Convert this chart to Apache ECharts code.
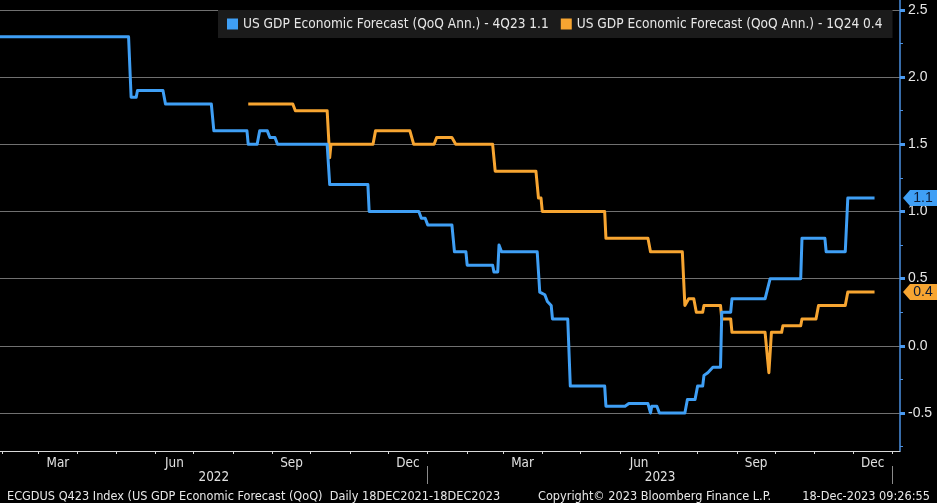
<!DOCTYPE html>
<html>
<head>
<meta charset="utf-8">
<script src="https://cdn.jsdelivr.net/npm/echarts@6/dist/echarts.min.js"></script>
<style>
html,body{margin:0;padding:0;background:#000;}
#chart{width:937px;height:503px;}
</style>
</head>
<body>
<div id="chart"></div>
<script>
// ---- Data ----
const seriesNames = ['US GDP Economic Forecast (QoQ Ann.) - 4Q23', 'US GDP Economic Forecast (QoQ Ann.) - 1Q24'];

const q423Dates = ['2022-01-30','2022-05-11','2022-05-13','2022-05-17','2022-05-18','2022-06-07','2022-06-09','2022-07-15','2022-07-17','2022-08-12','2022-08-13','2022-08-20','2022-08-22','2022-08-28','2022-08-30','2022-09-03','2022-09-05','2022-10-14','2022-10-16','2022-11-15','2022-11-16','2022-12-25','2022-12-27','2022-12-30','2023-01-01','2023-01-20','2023-01-22','2023-01-31','2023-02-01','2023-02-21','2023-02-22','2023-02-25','2023-02-26','2023-02-28','2023-03-28','2023-03-30','2023-04-03','2023-04-05','2023-04-08','2023-04-09','2023-04-21','2023-04-23','2023-05-20','2023-05-21','2023-06-05','2023-06-08','2023-06-23','2023-06-25','2023-06-26','2023-06-30','2023-07-02','2023-07-22','2023-07-24','2023-07-30','2023-08-01','2023-08-05','2023-08-06','2023-08-09','2023-08-11','2023-08-13','2023-08-19','2023-08-20','2023-08-27','2023-08-28','2023-09-23','2023-09-27','2023-10-21','2023-10-22','2023-11-09','2023-11-10','2023-11-25','2023-11-27','2023-12-18'];
const q423Values = [2.3,2.3,1.85,1.85,1.9,1.9,1.8,1.8,1.6,1.6,1.5,1.5,1.6,1.6,1.55,1.55,1.5,1.5,1.2,1.2,1.0,1.0,0.95,0.95,0.9,0.9,0.7,0.7,0.6,0.6,0.55,0.55,0.75,0.7,0.7,0.4,0.38,0.33,0.3,0.2,0.2,-0.3,-0.3,-0.45,-0.45,-0.43,-0.43,-0.5,-0.45,-0.45,-0.5,-0.5,-0.4,-0.4,-0.3,-0.3,-0.22,-0.2,-0.18,-0.16,-0.16,0.25,0.25,0.35,0.35,0.5,0.5,0.8,0.8,0.7,0.7,1.1,1.1];

const q124Dates = ['2022-08-13','2022-09-17','2022-09-19','2022-10-14','2022-10-16','2022-10-17','2022-11-19','2022-11-21','2022-12-18','2022-12-21','2023-01-06','2023-01-08','2023-01-20','2023-01-23','2023-02-21','2023-02-23','2023-03-27','2023-03-29','2023-03-31','2023-04-01','2023-05-20','2023-05-21','2023-06-23','2023-06-25','2023-07-20','2023-07-22','2023-07-25','2023-07-29','2023-07-31','2023-08-05','2023-08-06','2023-08-19','2023-08-20','2023-08-27','2023-08-28','2023-09-23','2023-09-26','2023-09-28','2023-10-06','2023-10-07','2023-10-21','2023-10-22','2023-11-02','2023-11-04','2023-11-25','2023-11-27','2023-12-18'];
const q124Values = [1.8,1.8,1.75,1.75,1.4,1.5,1.5,1.6,1.6,1.5,1.5,1.55,1.55,1.5,1.5,1.3,1.3,1.1,1.1,1.0,1.0,0.8,0.8,0.7,0.7,0.3,0.35,0.35,0.25,0.25,0.3,0.3,0.2,0.2,0.1,0.1,-0.2,0.1,0.1,0.15,0.15,0.2,0.2,0.3,0.3,0.4,0.4];

const xStart = '2022-01-30';
const xEnd = '2024-01-07';
const monthLabels = ['Mar','Jun','Sep','Dec'];
const yearLabels = ['2022','2023'];
const yTicks = [-0.5, 0.0, 0.5, 1.0, 1.5, 2.0, 2.5];
const yMinorTicks = [-0.75, -0.25, 0.25, 0.75, 1.25, 1.75, 2.25];
const footerLeft = 'ECGDUS Q423 Index (US GDP Economic Forecast (QoQ)  Daily 18DEC2021-18DEC2023';
const footerMid = 'Copyright\u00A9 2023 Bloomberg Finance L.P.';
const footerRight = '18-Dec-2023 09:26:55';

// ---- Helpers ----
const FONT = '"DejaVu Sans Condensed", "Liberation Sans Narrow", "Roboto Condensed", sans-serif';
const BLUE = '#3f9ff5';
const ORANGE = '#f7a531';
function ts(s){ const p = s.split('-').map(Number); return new Date(p[0], p[1]-1, p[2]).getTime(); }
const xMin = ts(xStart), xMax = ts(xEnd);
const monthNames = ['Jan','Feb','Mar','Apr','May','Jun','Jul','Aug','Sep','Oct','Nov','Dec'];

const monthStarts = [];
{ let d = new Date(xMin); d = new Date(d.getFullYear(), d.getMonth()+1, 1);
  while (d.getTime() <= xMax) { monthStarts.push(d.getTime()); d = new Date(d.getFullYear(), d.getMonth()+1, 1); } }
const monthMids = [];
{ let d = new Date(new Date(xMin).getFullYear(), new Date(xMin).getMonth(), 1);
  while (d.getTime() <= xMax) {
    const nxt = new Date(d.getFullYear(), d.getMonth()+1, 1);
    if (monthLabels.indexOf(monthNames[d.getMonth()]) >= 0) {
      const mid = (d.getTime() + nxt.getTime())/2;
      if (mid > xMin && mid < xMax) monthMids.push(mid);
    }
    d = nxt;
  } }
const yearStarts = [], yearMids = [];
yearLabels.forEach(function(y){
  const a = Math.max(xMin, new Date(+y, 0, 1).getTime());
  const b = Math.min(xMax, new Date(+y+1, 0, 1).getTime());
  yearMids.push((a+b)/2);
  const bs = new Date(+y+1, 0, 1).getTime();
  if (bs <= xMax) yearStarts.push(bs);
});

function pairs(ds, vs){ return ds.map(function(d,i){ return [ts(d), vs[i]]; }); }
const blueData = pairs(q423Dates, q423Values);
const orangeData = pairs(q124Dates, q124Values);
const blueLast = q423Values[q423Values.length-1];
const orangeLast = q124Values[q124Values.length-1];

function tag(color, last){
  return {
    silent: true,
    symbol: 'path://M0,8L7,0L34,0L34,16L7,16Z',
    symbolSize: [34, 16],
    symbolOffset: [20, 0],
    itemStyle: { color: color },
    label: { show: true, color: '#0c1a33', fontFamily: 'Liberation Sans, Arial, sans-serif', fontSize: 14, offset: [3, 0], formatter: function(){ return last.toFixed(1); } },
    data: [{ coord: [xMax, last] }]
  };
}

const chart = echarts.init(document.getElementById('chart'), null, {renderer: 'canvas'});
chart.setOption({
  backgroundColor: '#000',
  animation: false,
  title: [
    { text: footerLeft, left: 2, top: 485, textStyle: { color: '#e8e8e8', fontSize: 12.6, fontWeight: 'normal', fontFamily: FONT } },
    { text: footerMid, left: 533, top: 485, textStyle: { color: '#e8e8e8', fontSize: 12.6, fontWeight: 'normal', fontFamily: FONT } },
    { text: footerRight, right: 2, top: 485, textStyle: { color: '#e8e8e8', fontSize: 12.6, fontWeight: 'normal', fontFamily: FONT } }
  ],
  legend: {
    left: 218, top: 10,
    backgroundColor: '#1b1b1b',
    padding: [7, 10, 7, 9],
    itemGap: 12,
    itemWidth: 11, itemHeight: 11,
    icon: 'rect',
    textStyle: { color: '#e8e8e8', fontSize: 13.6, fontFamily: FONT },
    data: seriesNames,
    formatter: function(n){ return n + ' ' + (n === seriesNames[0] ? blueLast : orangeLast).toFixed(1); }
  },
  grid: { left: 0, right: 37, top: 0, bottom: 52, containLabel: false },
  xAxis: [
    {
      type: 'value', min: xMin, max: xMax, position: 'bottom',
      axisLine: { show: true, onZero: false, lineStyle: { color: '#d8d8d8', width: 1 } },
      axisTick: { show: true, length: 3, customValues: monthStarts, lineStyle: { color: '#d8d8d8' } },
      axisLabel: { show: true, customValues: monthMids, margin: 6, color: '#e0e0e0', fontSize: 13.4, fontFamily: FONT,
        formatter: function(v){ return monthNames[new Date(v).getMonth()]; } },
      splitLine: { show: false }
    },
    {
      type: 'value', min: xMin, max: xMax, position: 'bottom', offset: 15,
      axisLine: { show: false, onZero: false },
      axisTick: { show: true, length: 18, customValues: yearStarts, lineStyle: { color: '#8a8a8a' } },
      axisLabel: { show: true, customValues: yearMids, margin: 5, color: '#e0e0e0', fontSize: 13.4, fontFamily: FONT,
        formatter: function(v){ return String(new Date(v).getFullYear()); } },
      splitLine: { show: false }
    }
  ],
  yAxis: [
    {
      type: 'value', position: 'right', min: -0.783, max: 2.574,
      axisLine: { show: true, onZero: false, lineStyle: { color: '#4a8fe0', width: 1.5 } },
      axisTick: { show: true, length: 5, customValues: yTicks, lineStyle: { color: '#4a9af0', width: 3 } },
      axisLabel: { show: true, customValues: yTicks, margin: 8, color: '#e6e6e6', fontSize: 14, fontFamily: 'Liberation Sans, Arial, sans-serif',
        formatter: function(v){ return v.toFixed(1); } },
      splitLine: { show: true, lineStyle: { color: '#707070', width: 1 } }
    },
    {
      type: 'value', position: 'right', min: -0.783, max: 2.574,
      axisLine: { show: false, onZero: false },
      axisTick: { show: true, length: 3, customValues: yMinorTicks, lineStyle: { color: '#4a8fe0', width: 1 } },
      axisLabel: { show: false },
      splitLine: { show: false }
    }
  ],
  series: [
    { name: seriesNames[0], type: 'line', data: blueData, xAxisIndex: 0, yAxisIndex: 0, showSymbol: false, symbol: 'none',
      lineStyle: { color: BLUE, width: 3, join: 'round' }, itemStyle: { color: BLUE }, z: 3, markPoint: tag(BLUE, blueLast) },
    { name: seriesNames[1], type: 'line', data: orangeData, xAxisIndex: 0, yAxisIndex: 0, showSymbol: false, symbol: 'none',
      lineStyle: { color: ORANGE, width: 3, join: 'round' }, itemStyle: { color: ORANGE }, z: 2, markPoint: tag(ORANGE, orangeLast) }
  ]
});
</script>
</body>
</html>
